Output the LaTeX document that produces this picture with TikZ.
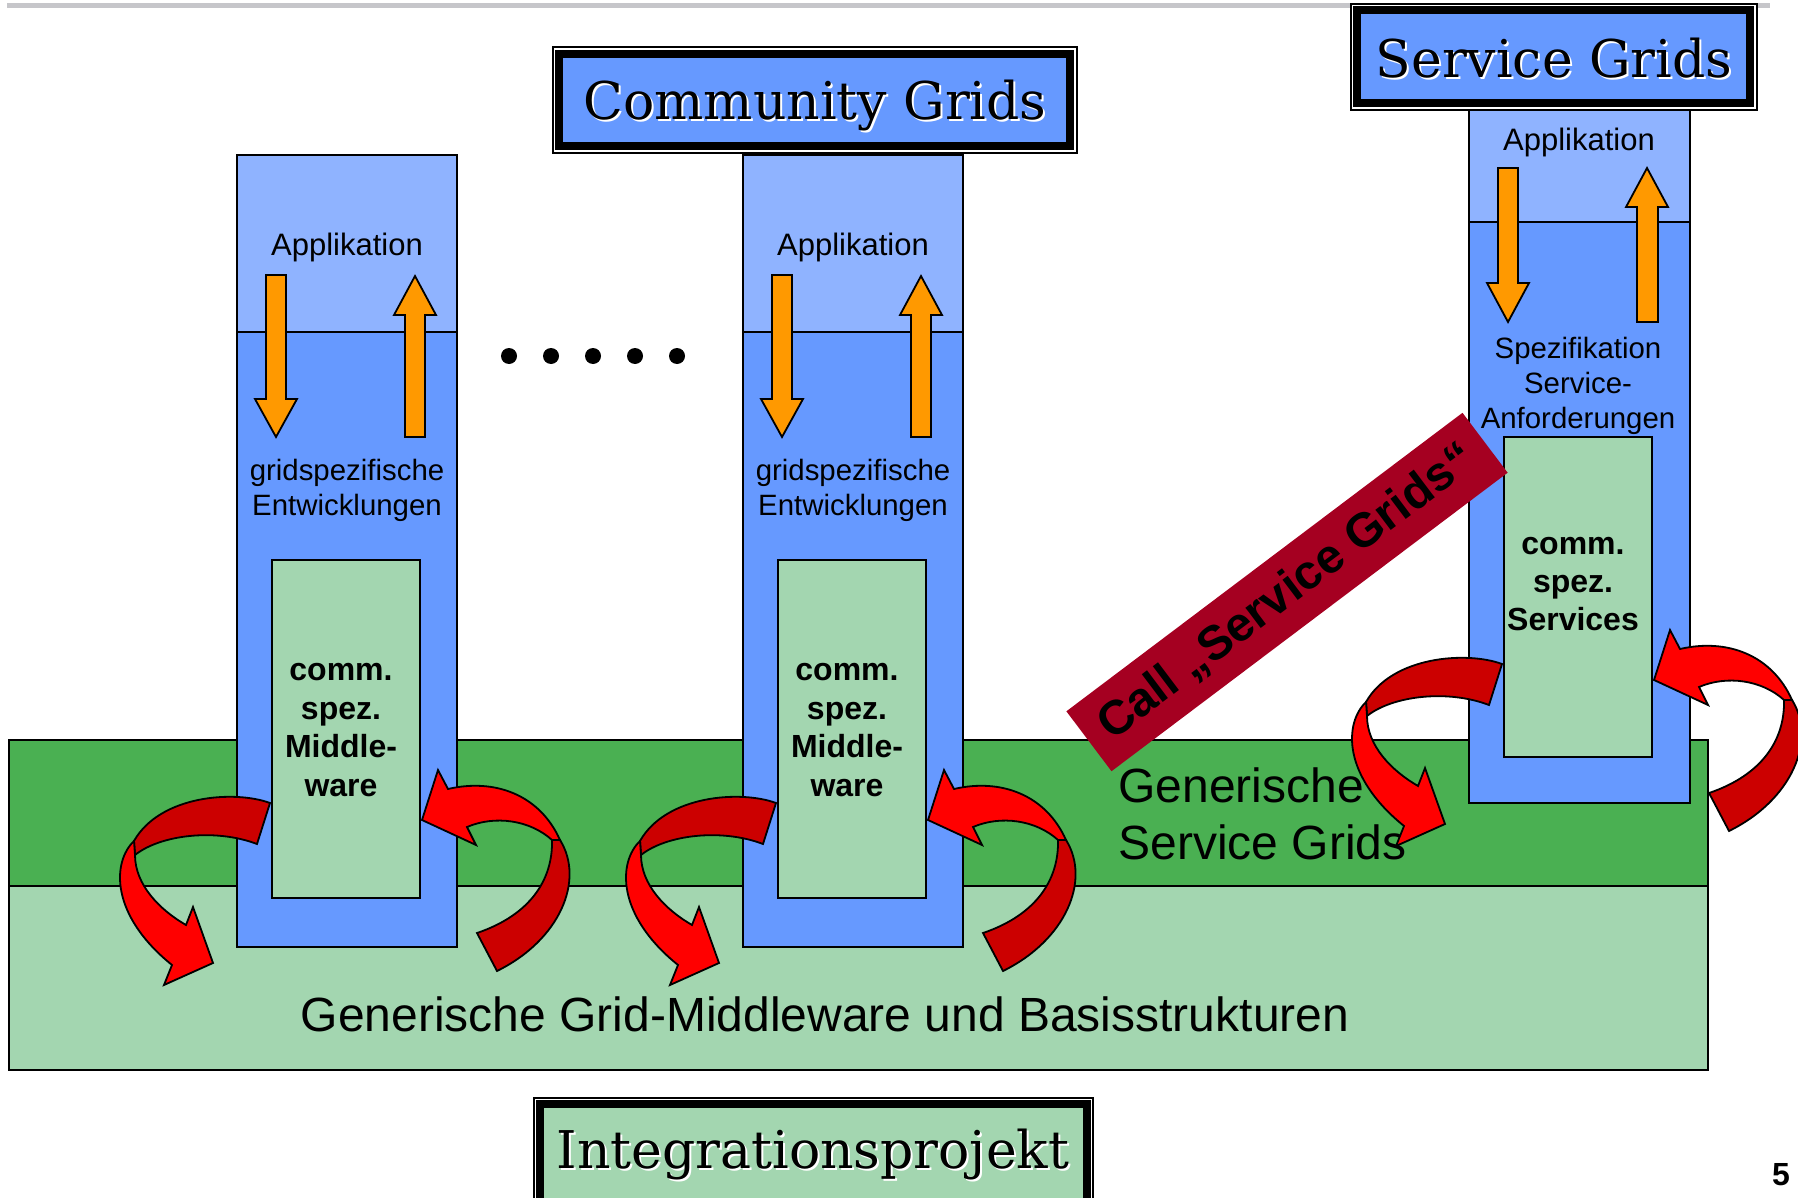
\documentclass[tikz,border=0pt]{standalone}
\usepackage{fontspec}
\setmainfont{Liberation Sans}
\newfontfamily\titlefont{DejaVu Serif}
\usetikzlibrary{positioning}

\definecolor{colblue}{RGB}{102,153,255}
\definecolor{appblue}{RGB}{143,179,255}
\definecolor{gridgreen}{RGB}{74,176,82}
\definecolor{basegreen}{RGB}{163,214,176}
\definecolor{arrorange}{RGB}{255,153,0}
\definecolor{curlred}{RGB}{255,0,0}
\definecolor{curldark}{RGB}{204,0,0}
\definecolor{callred}{RGB}{165,0,33}
\definecolor{rulegray}{RGB}{198,198,202}

\tikzset{
  outline/.style={draw=black, line width=0.9pt},
  blockarrow/.style={outline, fill=arrorange},
  curlback/.style={outline, fill=curldark},
  curlfront/.style={outline, fill=curlred},
  apptext/.style={font=\fontsize{15.5}{18}\selectfont, inner sep=0pt},
  devtext/.style={font=\fontsize{14.7}{17.5}\selectfont, align=center, inner sep=0pt},
  commtext/.style={font=\fontsize{16}{19.2}\selectfont\bfseries, align=center, inner sep=0pt},
  bandtext/.style={font=\fontsize{24}{28.8}\selectfont, inner sep=0pt},
  titletext/.style={font=\titlefont\fontsize{26}{30}\selectfont, inner sep=0pt},
}

\newcommand{\shadowed}[1]{\makebox[0pt][l]{\hspace{1pt}\raisebox{-1pt}{\color{white}#1}}#1}

\newcommand{\leftcurl}{%
  \filldraw[curlback] (270,803) .. controls (235,790) and (160,795) .. (134,841)
    -- (135,855) .. controls (160,835) and (215,828) .. (257,844) -- cycle;
  \filldraw[curlfront] (134,841) .. controls (112,862) and (110,915) .. (172,965)
    -- (164,985) -- (213,963) -- (193,907) -- (186,925)
    .. controls (160,910) and (135,885) .. (135,855) -- cycle;}

\newcommand{\rightcurl}{%
  \filldraw[curlback] (552,840) .. controls (553,880) and (530,915) .. (477,933)
    -- (497,971) .. controls (560,940) and (585,880) .. (560,840) -- cycle;
  \filldraw[curlfront] (422,820) -- (438,770) -- (448,789)
    .. controls (495,778) and (540,795) .. (560,840)
    -- (552,840) .. controls (530,820) and (495,815) .. (467,827)
    -- (476,845) -- cycle;}

\begin{document}
\begin{tikzpicture}[x=0.5pt, y=-0.5pt]
  \useasboundingbox (0,0) rectangle (1798,1198);
  \draw[rulegray, line width=2.5pt] (7,5.5) -- (1770,5.5);

  \draw[outline, fill=basegreen] (9,886) rectangle (1708,1070);
  \draw[outline, fill=gridgreen] (9,740) rectangle (1708,886);

  \foreach \s/\i in {0/1, 506/2} {
    \begin{scope}[shift={(\s,0)}]
      \fill[colblue] (237,155) rectangle (457,947);
      \fill[appblue] (237,155) rectangle (457,332);
      \draw[outline] (237,332) -- (457,332);
      \draw[outline] (237,155) rectangle (457,947);
      \draw[blockarrow] (266,275) -- (286,275) -- (286,399) -- (297,399) -- (276,437) -- (255,399) -- (266,399) -- cycle;
      \draw[blockarrow] (405,437) -- (425,437) -- (425,315) -- (436,315) -- (415,276) -- (394,315) -- (405,315) -- cycle;
      \node[apptext] (app\i) at (347,247) {Applikation};
      \node[devtext] (dev\i) at (347,490) {gridspezifische\\Entwicklungen};
      \draw[outline, fill=basegreen] (272,560) rectangle (420,898);
      \node[commtext] (mw\i) at (341,730) {comm.\\spez.\\Middle-\\ware};
    \end{scope}
  }

  \foreach \x in {509,551,593,635,677}
    \fill (\x,356) circle (4pt);

  \fill[colblue] (1469,107) rectangle (1690,803);
  \fill[appblue] (1469,107) rectangle (1690,222);
  \draw[outline] (1469,222) -- (1690,222);
  \draw[outline] (1469,107) rectangle (1690,803);
  \draw[blockarrow] (1498,168) -- (1518,168) -- (1518,283) -- (1529,283) -- (1508,322) -- (1487,283) -- (1498,283) -- cycle;
  \draw[blockarrow] (1637,322) -- (1658,322) -- (1658,207) -- (1668,207) -- (1647,168) -- (1626,207) -- (1637,207) -- cycle;
  \node[apptext] (app3) at (1579,142) {Applikation};
  \node[devtext] (spec3) at (1578,386) {Spezifikation\\Service-\\Anforderungen};
  \draw[outline, fill=basegreen] (1504,437) rectangle (1652,757);
  \node[commtext] (srv3) at (1573,584) {comm.\\spez.\\Services};

  \node[bandtext, align=left, anchor=west] (gsg) at (1118,814) {Generische\\Service Grids};
  \node[bandtext] (ggm) at (825,1014) {Generische Grid-Middleware und Basisstrukturen};

  \node[fill=callred, rotate=37, minimum width=248pt, minimum height=37.5pt, inner sep=0pt,
        font=\fontsize{24}{28}\selectfont\bfseries] (call) at (1287,592) {Call „Service Grids“};

  \foreach \s in {0,506} {
    \begin{scope}[shift={(\s,0)}]
      \leftcurl
      \rightcurl
    \end{scope}
  }
  \begin{scope}[shift={(1232,-139)}]
    \leftcurl
  \end{scope}
  \begin{scope}[shift={(1232,-140)}]
    \rightcurl
  \end{scope}

  \draw[line width=0.7pt, fill=white] (553,47) rectangle (1077,153);
  \draw[line width=4pt, fill=colblue] (559,54) rectangle (1070,146);
  \node[titletext] (cg) at (815,107) {\shadowed{Community Grids}};

  \draw[line width=0.7pt, fill=white] (1351,4) rectangle (1757,110);
  \draw[line width=4pt, fill=colblue] (1357,10) rectangle (1750,103);
  \node[titletext] (sg) at (1554,59) {\shadowed{Service Grids}};

  \draw[line width=0.7pt, fill=white] (534,1098) rectangle (1093,1215);
  \draw[line width=4pt, fill=basegreen] (540,1104) rectangle (1087,1208);
  \node[titletext] (ip) at (813,1156) {\shadowed{Integrationsprojekt}};

  \node[font=\fontsize{16}{19}\selectfont\bfseries, inner sep=0pt] (pg) at (1781,1175) {5};
\end{tikzpicture}
\end{document}
